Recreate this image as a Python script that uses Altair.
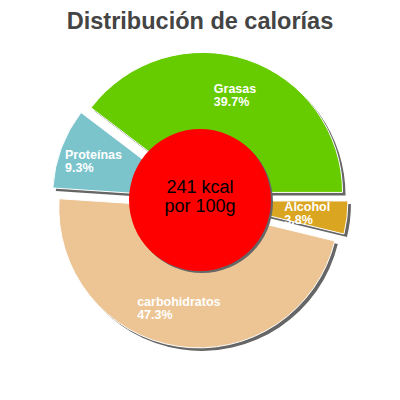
import altair as alt
import pandas as pd
import numpy as np

# ---- data ----
categories = ["Alcohol", "carbohidratos", "Proteínas", "Grasas"]
percent = [3.8, 47.3, 9.3, 39.7]
colors = ["#daa520", "#edc594", "#7bc4cc", "#66cc00"]
kcal_value = 241
center_lines = [f"{kcal_value} kcal", "por 100g"]
title_text = "Distribución de calorías"

# ---- layout constants ----
W, H = 384, 340
CX, CY = 192, 161
R = 140
EXPLODE = 8
SH_DX, SH_DY = 3, 3
HOLE_R = 71
LABEL_R = 102
CHAR_W = 7.1
START = np.pi / 2
SHADOW = "#666666"
FONT = "Liberation Sans"

vals = np.array(percent, dtype=float)
frac = vals / vals.sum()
ends = START + 2 * np.pi * np.cumsum(frac)
starts = ends - 2 * np.pi * frac
mid = (starts + ends) / 2

df = pd.DataFrame({
    "cat": categories,
    "value": percent,
    "color": colors,
    "start": starts,
    "end": ends,
})
df["pct"] = [f"{v:.1f}%" for v in percent]
df["cx"] = CX + EXPLODE * np.sin(mid)
df["cy"] = CY - EXPLODE * np.cos(mid)
df["sx"] = df["cx"] + SH_DX
df["sy"] = df["cy"] + SH_DY
blockw = np.array([CHAR_W * max(len(a), len(b)) for a, b in zip(df["cat"], df["pct"])])
df["lx"] = df["cx"] + LABEL_R * np.sin(mid) - blockw / 2
df["ly"] = df["cy"] - LABEL_R * np.cos(mid)

center_df = pd.DataFrame({"line": center_lines, "k": [0, 1]})

base = alt.Chart(df)

shadows = base.mark_arc(radius=R, color=SHADOW).encode(
    theta=alt.Theta("start:Q", scale=None, stack=None),
    theta2="end:Q",
    x=alt.X("sx:Q", scale=None, axis=None),
    y=alt.Y("sy:Q", scale=None, axis=None),
)

slices = base.mark_arc(radius=R, stroke="white", strokeWidth=1).encode(
    theta=alt.Theta("start:Q", scale=None, stack=None),
    theta2="end:Q",
    x=alt.X("cx:Q", scale=None, axis=None),
    y=alt.Y("cy:Q", scale=None, axis=None),
    color=alt.Color("color:N", scale=None, legend=None),
)

def label_layer(field, dy):
    return base.mark_text(align="left", baseline="middle", dy=dy, font=FONT,
                          fontSize=12.5, fontWeight="bold", color="white").encode(
        x=alt.X("lx:Q", scale=None, axis=None),
        y=alt.Y("ly:Q", scale=None, axis=None),
        text=f"{field}:N",
    )

lab1 = label_layer("cat", -6.5)
lab2 = label_layer("pct", 6.5)

hole_shadow = alt.Chart(center_df.head(1)).mark_arc(radius=HOLE_R, color=SHADOW).encode(
    theta=alt.value(0), theta2=alt.value(2 * np.pi),
    x=alt.value(CX + 2), y=alt.value(CY + 2),
)
hole = alt.Chart(center_df.head(1)).mark_arc(radius=HOLE_R, color="#ff0000").encode(
    theta=alt.value(0), theta2=alt.value(2 * np.pi),
    x=alt.value(CX), y=alt.value(CY),
)
center_text = alt.Chart(center_df).mark_text(
    align="center", baseline="middle", font=FONT, fontSize=18, color="black"
).encode(
    x=alt.value(CX),
    y=alt.Y("k:Q", scale=alt.Scale(domain=[0, 1], range=[CY - 12, CY + 7]), axis=None),
    text="line:N",
)

chart = alt.layer(
    shadows, slices, lab1, lab2, hole_shadow, hole, center_text
).properties(
    width=W, height=H,
    padding={"left": 0, "right": 0, "top": 1, "bottom": 0},
    title=alt.TitleParams(title_text, fontSize=23.5, font=FONT, fontWeight="bold",
                          color="#444444", anchor="middle", offset=6),
).configure_view(stroke=None)

chart.save("out.html", embed_options={"renderer": "svg", "actions": False})
